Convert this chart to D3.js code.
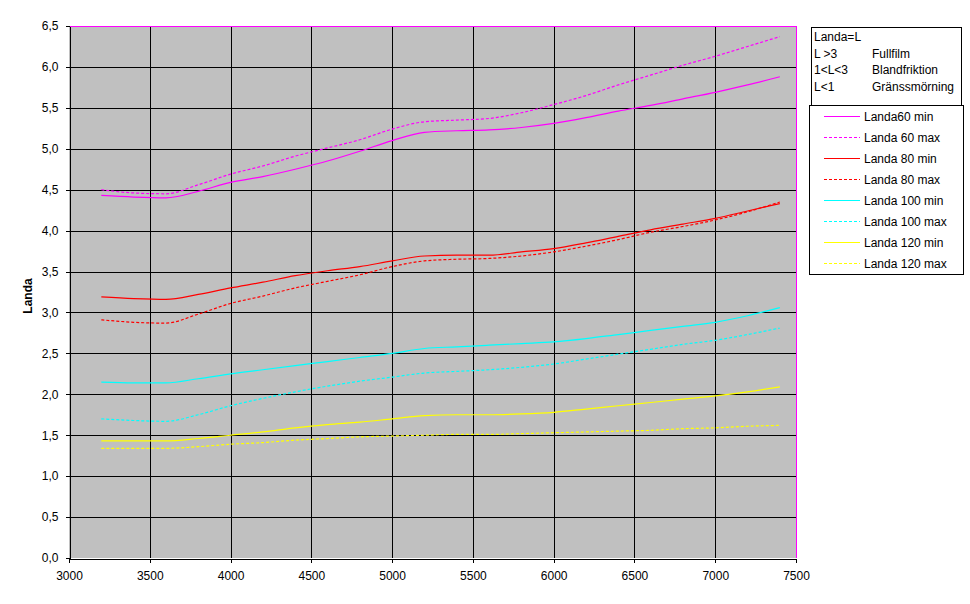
<!DOCTYPE html>
<html><head><meta charset="utf-8">
<script src="https://cdn.jsdelivr.net/npm/d3@7"></script>
<style>body{margin:0;background:#fff}svg{display:block;font-family:"Liberation Sans",Arial,sans-serif}</style>
</head><body><svg id="c" width="970" height="604"></svg>
<script>
const rpm = [3200,3400,3600,3800,4000,4200,4400,4600,4800,5000,5200,5400,5600,5800,6000,6200,6400,6600,6800,7000,7200,7400];
const landa60min  = [4.43,4.41,4.40,4.48,4.59,4.66,4.75,4.85,4.97,5.10,5.20,5.22,5.23,5.26,5.31,5.38,5.46,5.53,5.61,5.69,5.78,5.88];
const landa60max  = [4.50,4.46,4.45,4.56,4.69,4.79,4.91,5.01,5.11,5.24,5.33,5.35,5.37,5.44,5.54,5.65,5.78,5.90,6.02,6.13,6.25,6.37];
const landa80min  = [3.19,3.17,3.16,3.22,3.30,3.37,3.45,3.51,3.56,3.63,3.69,3.70,3.70,3.74,3.78,3.85,3.93,4.01,4.08,4.15,4.24,4.33];
const landa80max  = [2.91,2.88,2.87,2.98,3.11,3.20,3.30,3.38,3.46,3.56,3.63,3.65,3.66,3.69,3.74,3.81,3.89,3.98,4.05,4.13,4.23,4.35];
const landa100min = [2.15,2.14,2.14,2.19,2.25,2.30,2.35,2.40,2.45,2.50,2.56,2.58,2.60,2.62,2.64,2.68,2.73,2.78,2.83,2.88,2.96,3.06];
const landa100max = [1.70,1.68,1.67,1.75,1.86,1.95,2.03,2.10,2.16,2.21,2.26,2.28,2.30,2.33,2.37,2.43,2.49,2.55,2.61,2.66,2.73,2.81];
const landa120min = [1.43,1.43,1.43,1.46,1.50,1.54,1.59,1.63,1.66,1.70,1.74,1.75,1.75,1.76,1.78,1.82,1.86,1.90,1.94,1.98,2.03,2.09];
const landa120max = [1.34,1.34,1.34,1.36,1.39,1.41,1.44,1.46,1.48,1.49,1.50,1.51,1.51,1.52,1.53,1.54,1.55,1.56,1.58,1.59,1.61,1.62];
const seriesNames = ["Landa60 min","Landa 60 max","Landa 80 min","Landa 80 max","Landa 100 min","Landa 100 max","Landa 120 min","Landa 120 max"];
const seriesValues = [landa60min,landa60max,landa80min,landa80max,landa100min,landa100max,landa120min,landa120max];
const seriesColors = ["#FF00FF","#FF00FF","#FF0000","#FF0000","#00FFFF","#00FFFF","#FFFF00","#FFFF00"];
const seriesDashed = [false,true,false,true,false,true,false,true];
const xTicks = [3000,3500,4000,4500,5000,5500,6000,6500,7000,7500];
const yTicks = [0,0.5,1,1.5,2,2.5,3,3.5,4,4.5,5,5.5,6,6.5];
const infoRows = [["Landa=L",""],["L >3","Fullfilm"],["1<L<3","Blandfriktion"],["L<1","Gränssmörning"]];
const yTitle = "Landa";

const svg = d3.select("#c");
const L=69, R=796, T=26, B=558;
const x = d3.scaleLinear().domain([3000,7500]).range([L,R]);
const y = d3.scaleLinear().domain([0,6.5]).range([B,T]);

svg.append("rect").attr("x",L).attr("y",T).attr("width",R-L).attr("height",B-T).attr("fill","#C0C0C0");
// grid
const g = svg.append("g").attr("shape-rendering","crispEdges");
g.selectAll(".vg").data(xTicks.slice(1,-1)).join("line")
  .attr("x1",d=>Math.round(x(d))+0.5).attr("x2",d=>Math.round(x(d))+0.5).attr("y1",T).attr("y2",B).attr("stroke","#000");
g.selectAll(".hg").data(yTicks.slice(1,-1)).join("line")
  .attr("y1",d=>Math.round(y(d))+0.5).attr("y2",d=>Math.round(y(d))+0.5).attr("x1",L).attr("x2",R).attr("stroke","#000");
// plot border (magenta top/right)
g.append("path").attr("d",`M${L},${T+0.5}H${R+0.5}V${B}`).attr("fill","none").attr("stroke","#FF00FF");

// lines
const line = d3.line().x((d,i)=>x(rpm[i])).y(d=>y(d)).curve(d3.curveMonotoneX);
seriesValues.forEach((vals,i)=>{
  svg.append("path").attr("d",line(vals)).attr("fill","none")
    .attr("stroke",seriesColors[i]).attr("stroke-width",1.2)
    .attr("stroke-dasharray",seriesDashed[i]?"3,2":null);
});

// axes
const fmtY = d=>d3.format(".1f")(d).replace(".",",");
const ax = svg.append("g").attr("transform",`translate(0,${B+0.5})`)
  .call(d3.axisBottom(x).tickValues(xTicks).tickSize(4).tickSizeOuter(0).tickFormat(d3.format("d")));
const ay = svg.append("g").attr("transform",`translate(${L+0.5},0)`)
  .call(d3.axisLeft(y).tickValues(yTicks).tickSize(4).tickSizeOuter(0).tickFormat(fmtY));
[ax,ay].forEach(a=>{
  a.attr("shape-rendering","crispEdges");
  a.selectAll("path,line").attr("stroke","#000");
  a.selectAll("text").attr("font-size",12).attr("font-family","Liberation Sans, Arial, sans-serif").attr("fill","#000");
});
ax.selectAll("text").attr("dy","0.71em").attr("y",13);
ay.selectAll("text").attr("x",-11);

svg.append("text").attr("transform","translate(32,296) rotate(-90)").attr("text-anchor","middle")
  .attr("font-size",12).attr("font-weight","bold").text(yTitle);

// info box
const ib = svg.append("g").attr("shape-rendering","crispEdges");
ib.append("rect").attr("x",811.5).attr("y",27.5).attr("width",150).attr("height",79).attr("fill","#fff").attr("stroke","#000");
infoRows.forEach((r,i)=>{
  ib.append("text").attr("x",814).attr("y",41+i*16.7).attr("font-size",12).text(r[0]);
  ib.append("text").attr("x",872).attr("y",41+i*16.7).attr("font-size",12).text(r[1]);
});
// legend
const lg = svg.append("g");
lg.append("rect").attr("x",809.5).attr("y",105.5).attr("width",154).attr("height",169).attr("fill","#fff").attr("stroke","#000").attr("shape-rendering","crispEdges");
seriesNames.forEach((n,i)=>{
  const yy = 116 + i*21;
  lg.append("line").attr("x1",824).attr("x2",860).attr("y1",yy+0.5).attr("y2",yy+0.5)
    .attr("stroke",seriesColors[i]).attr("stroke-dasharray",seriesDashed[i]?"3,2":null);
  lg.append("text").attr("x",864).attr("y",yy+4.5).attr("font-size",12).text(n);
});
</script></body></html>
